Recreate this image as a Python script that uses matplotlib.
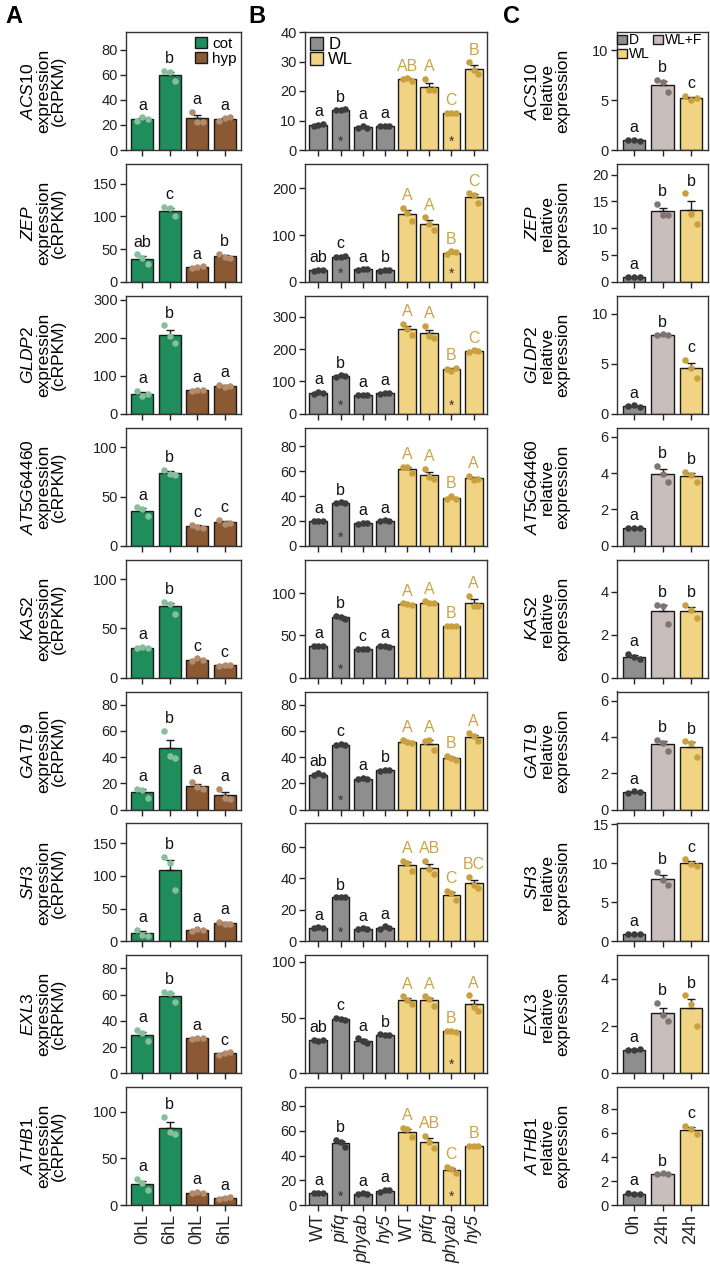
import numpy as np
import matplotlib.pyplot as plt
from matplotlib.patches import Patch

plt.rcParams['font.family'] = ['Liberation Sans', 'DejaVu Sans']
plt.rcParams['mathtext.fontset'] = 'custom'
plt.rcParams['mathtext.it'] = 'Liberation Sans:italic'
plt.rcParams['mathtext.rm'] = 'Liberation Sans'

genes = ['ACS10', 'ZEP', 'GLDP2', 'AT5G64460', 'KAS2', 'GATL9', 'SH3', 'EXL3', 'ATHB1']

# ---- panel A: cot 0hL, cot 6hL, hyp 0hL, hyp 6hL (3 replicates each, cRPKM)
a_ticklabels = ['0hL', '6hL', '0hL', '6hL']
a_reps = [
    [[23, 26, 24.5], [63, 62, 55], [30.5, 22.7, 22.7], [23.5, 25.3, 26]],
    [[42, 36, 28], [114, 112, 100], [21.5, 23, 23.5], [43, 38, 37]],
    [[60, 47, 52], [232, 205, 185], [60, 62, 63], [76, 70, 73]],
    [[39, 37, 30], [77, 73, 72], [21.5, 19, 18.5], [26, 22, 23]],
    [[30, 31.5, 30], [77, 75, 65], [17, 19.5, 18], [12, 13, 12.5]],
    [[16, 15, 8.5], [60, 41, 39], [21, 17, 16], [16, 9, 8]],
    [[18, 10, 9], [129, 120, 79], [16.5, 18.5, 17.5], [30, 27, 26]],
    [[33, 30.5, 24.5], [62, 61, 54.5], [26, 27, 26.8], [14, 15.5, 16]],
    [[28, 24, 16], [94, 78, 76], [12.5, 14, 13.5], [6.5, 8, 8.5]],
]
a_letters = [
    ['a', 'b', 'a', 'a'], ['ab', 'c', 'a', 'b'], ['a', 'b', 'a', 'a'],
    ['a', 'b', 'c', 'c'], ['a', 'b', 'c', 'c'], ['a', 'b', 'a', 'a'],
    ['a', 'b', 'a', 'a'], ['a', 'b', 'a', 'c'], ['a', 'b', 'a', 'a'],
]
a_ymax = [94, 180, 310, 120, 120, 90, 180, 90, 126]
a_step = [20, 50, 100, 50, 50, 20, 50, 20, 50]

# ---- panel B: D (WT, pifq, phyab, hy5), WL (WT, pifq, phyab, hy5)
b_ticklabels = ['WT', 'pifq', 'phyab', 'hy5', 'WT', 'pifq', 'phyab', 'hy5']
b_reps = [
    [[8.3, 8.5, 8.8], [13.5, 13.7, 13.8], [7.5, 8, 7.6], [8.0, 8.3, 8.3],
     [24.2, 24.3, 23.5], [24, 20.2, 20.2], [12.5, 12.7, 12.5], [29.7, 27, 25.7]],
    [[24, 25, 26], [53, 54, 55], [26, 27, 27], [24, 25, 26],
     [158, 148, 130], [138, 123, 111], [60, 65, 63], [189, 186, 168]],
    [[60, 68, 63], [115, 119, 118], [57, 58, 58], [62, 64, 63],
     [278, 262, 244], [272, 240, 236], [138, 133, 143], [190, 196, 194]],
    [[19.5, 20, 20], [34, 35, 34.5], [17.5, 18.5, 18], [19.5, 20.5, 20],
     [63.5, 63.3, 58.5], [62, 55, 54], [38, 40, 37.5], [56, 53, 53.5]],
    [[38, 38, 38], [73, 72, 70], [34, 34, 34], [37, 38, 36.5],
     [88, 87, 86], [90.5, 88, 88], [61, 61, 61], [97, 85, 85]],
    [[26, 27.5, 26.5], [49, 50, 49.5], [23, 24, 23.2], [29, 30.5, 29.8],
     [53, 51.5, 50.5], [52.5, 53, 45.5], [41, 39, 38], [58, 56, 52]],
    [[8.5, 9, 8.3], [28, 28, 28], [8, 8.3, 8], [8, 9.5, 8.8],
     [51, 50, 44.5], [51, 46, 43], [32, 31, 26], [41, 36, 34]],
    [[30, 29, 29.5], [50, 49, 48], [31.5, 29, 27], [35, 34.5, 34],
     [69, 65.5, 62], [69, 67, 60.5], [38, 38, 37.5], [70, 60, 56]],
    [[9.5, 10, 9.8], [52.5, 50.5, 46.5], [9, 9.5, 9.3], [11, 12.5, 12],
     [62, 61, 55], [56, 51, 46], [31, 29, 26], [48, 48, 47.5]],
]
b_letters = [
    ['a', 'b', 'a', 'a', 'AB', 'A', 'C', 'B'],
    ['ab', 'c', 'a', 'b', 'A', 'A', 'B', 'C'],
    ['a', 'b', 'a', 'a', 'A', 'A', 'B', 'C'],
    ['a', 'b', 'a', 'a', 'A', 'A', 'B', 'A'],
    ['a', 'b', 'c', 'a', 'A', 'A', 'B', 'A'],
    ['ab', 'c', 'a', 'b', 'A', 'A', 'B', 'A'],
    ['a', 'b', 'a', 'a', 'A', 'AB', 'C', 'BC'],
    ['ab', 'c', 'a', 'b', 'A', 'A', 'B', 'A'],
    ['a', 'b', 'a', 'a', 'A', 'AB', 'C', 'B'],
]
b_stars = [[1, 6], [1, 6], [1, 6], [1], [1], [1], [1], [6], [1, 6]]
b_ymax = [40, 252, 365, 95, 140, 90, 75, 106, 95]
b_step = [10, 100, 100, 20, 50, 20, 20, 50, 20]

# ---- panel C: D 0h, WL+F 24h, WL 24h (relative expression)
c_ticklabels = ['0h', '24h', '24h']
c_reps = [
    [[1, 1, 0.95], [7, 6.8, 5.8], [5.4, 5.0, 5.2]],
    [[1, 0.9, 1], [14.5, 12.5, 12.4], [16.5, 12.7, 10.8]],
    [[0.75, 0.85, 0.65], [7.9, 7.95, 7.9], [5.4, 4.6, 3.6]],
    [[0.96, 0.98, 0.97], [4.4, 3.95, 3.5], [4.05, 3.9, 3.5]],
    [[1.1, 0.98, 0.85], [3.4, 3.35, 2.5], [3.4, 3.15, 2.8]],
    [[0.9, 1.0, 0.95], [3.85, 3.65, 3.25], [3.75, 3.65, 2.9]],
    [[1, 1, 0.95], [8.9, 7.8, 7.2], [10.5, 9.9, 9.6]],
    [[1.0, 1.0, 1.02], [3.0, 2.45, 2.2], [3.3, 2.95, 2.0]],
    [[1, 0.95, 0.95], [2.6, 2.65, 2.55], [6.6, 6.3, 5.9]],
]
c_letters = [
    ['a', 'b', 'c'], ['a', 'b', 'b'], ['a', 'b', 'c'], ['a', 'b', 'b'],
    ['a', 'b', 'b'], ['a', 'b', 'b'], ['a', 'b', 'c'], ['a', 'b', 'b'],
    ['a', 'b', 'c'],
]
c_ymax = [11.8, 22, 11.8, 6.5, 5.5, 6.5, 15.1, 5.0, 9.8]
c_step = [5, 5, 5, 2, 2, 2, 5, 2, 2]

# colours
green, brown = '#1f8d5c', '#8b5a34'
green_dot, brown_dot = '#86bf9c', '#b48c6c'
grey, yellow, pinkgrey = '#8e8e8e', '#f1d384', '#c9bebb'
grey_dot, gold_dot, pg_dot = '#3c3c3c', '#c9a03e', '#7f746f'
gold_txt = '#c9a54c'
edge = '#1a1a1a'

W, H = 710, 1265
fig = plt.figure(figsize=(W / 100, H / 100), dpi=100)

cols = {'A': (126, 241), 'B': (305, 487), 'C': (617, 708)}
row_top0, row_gap, row_h = 32, 131.9, 118


def make_ax(col, i):
    l, r = cols[col]
    top = row_top0 + row_gap * i
    return fig.add_axes([l / W, 1 - (top + row_h) / H, (r - l) / W, row_h / H])


def draw(ax, reps, colors, dcolors, letters, lcolors, ymax, step, ticklabels, show_x):
    n = len(reps)
    x = np.arange(n)
    means = np.array([np.mean(r) for r in reps])
    ses = np.array([np.std(r, ddof=1) / np.sqrt(len(r)) for r in reps])
    ax.bar(x, means, width=0.8, color=colors, edgecolor=edge, linewidth=1, zorder=2)
    ax.errorbar(x, means, yerr=[np.zeros(n), ses], fmt='none', ecolor=edge,
                elinewidth=1, capsize=3, capthick=1, zorder=3)
    for xi, r, dc in zip(x, reps, dcolors):
        ax.scatter(xi + np.array([-0.2, 0.0, 0.2]), r, s=22, color=dc,
                   linewidths=0, zorder=4)
    for xi, r, m, s, lt, lc in zip(x, reps, means, ses, letters, lcolors):
        top = max(max(r), m + s)
        ax.text(xi, top + 0.04 * ymax, lt, ha='center', va='bottom',
                fontsize=11.5, color=lc)
    ax.set_xlim(-0.6, n - 0.4)
    ax.set_ylim(0, ymax)
    ax.set_yticks(np.arange(0, ymax + 1e-9, step))
    ax.set_xticks(x)
    if show_x:
        ax.set_xticklabels(ticklabels, rotation=90, fontsize=13)
    else:
        ax.set_xticklabels([])
    ax.tick_params(axis='y', labelsize=10.5, length=4, width=1, pad=2, colors='#222222')
    ax.tick_params(axis='x', length=4, width=1, pad=2, colors='#222222')
    for sp in ax.spines.values():
        sp.set_linewidth(1)
        sp.set_color('#333333')
    return x


for i, g in enumerate(genes):
    last = i == len(genes) - 1
    # A
    ax = make_ax('A', i)
    draw(ax, a_reps[i], [green, green, brown, brown],
         [green_dot, green_dot, brown_dot, brown_dot],
         a_letters[i], ['#111111'] * 4, a_ymax[i], a_step[i], a_ticklabels, last)
    ax.text(-0.72, 0.5, r'$\it{' + g + '}$' + '\nexpression\n(cRPKM)',
            transform=ax.transAxes, rotation=90, ha='center', va='center',
            fontsize=12.5, linespacing=1.0, multialignment='center')
    if i == 0:
        ax.legend(handles=[Patch(facecolor=green, edgecolor=edge, label='cot'),
                           Patch(facecolor=brown, edgecolor=edge, label='hyp')],
                  loc='upper right', frameon=False, fontsize=11, handlelength=0.8,
                  handleheight=0.8, handletextpad=0.3, labelspacing=0.05,
                  borderpad=0.1, borderaxespad=0.2)
    # B
    ax = make_ax('B', i)
    xb = draw(ax, b_reps[i], [grey] * 4 + [yellow] * 4,
              [grey_dot] * 4 + [gold_dot] * 4, b_letters[i],
              ['#111111'] * 4 + [gold_txt] * 4, b_ymax[i], b_step[i], b_ticklabels, last)
    for k in b_stars[i]:
        ax.text(xb[k], 0.07 * b_ymax[i], '*', ha='center', va='center',
                fontsize=10, color='#333333', zorder=5)
    if last:
        for k, lab in enumerate(ax.get_xticklabels()):
            if b_ticklabels[k] != 'WT':
                lab.set_fontstyle('italic')
    if i == 0:
        ax.legend(handles=[Patch(facecolor=grey, edgecolor=edge, label='D'),
                           Patch(facecolor=yellow, edgecolor=edge, label='WL')],
                  loc='upper left', frameon=False, fontsize=12, handlelength=0.8,
                  handleheight=0.8, handletextpad=0.3, labelspacing=0.0,
                  borderpad=0.1, borderaxespad=0.2)
    # C
    ax = make_ax('C', i)
    draw(ax, c_reps[i], [grey, pinkgrey, yellow], [grey_dot, pg_dot, gold_dot],
         c_letters[i], ['#111111'] * 3, c_ymax[i], c_step[i], c_ticklabels, last)
    ax.text(-0.77, 0.5, r'$\it{' + g + '}$' + '\nrelative\nexpression',
            transform=ax.transAxes, rotation=90, ha='center', va='center',
            fontsize=12.5, linespacing=1.0, multialignment='center')
    if i == 0:
        ax.legend(handles=[Patch(facecolor=grey, edgecolor=edge, label='D'),
                           Patch(facecolor=yellow, edgecolor=edge, label='WL'),
                           Patch(facecolor=pinkgrey, edgecolor=edge, label='WL+F')],
                  loc='upper left', bbox_to_anchor=(-0.01, 1.0), ncol=2,
                  frameon=False, fontsize=10, handlelength=0.7, handleheight=0.7,
                  handletextpad=0.15, labelspacing=0.0, columnspacing=0.2,
                  borderpad=0.1, borderaxespad=0.0)

fig.text(5 / W, 1 - 5 / H, 'A', fontsize=17, fontweight='bold', va='top')
fig.text(248 / W, 1 - 5 / H, 'B', fontsize=17, fontweight='bold', va='top')
fig.text(503 / W, 1 - 5 / H, 'C', fontsize=17, fontweight='bold', va='top')

fig.savefig('out.png', dpi=100)
